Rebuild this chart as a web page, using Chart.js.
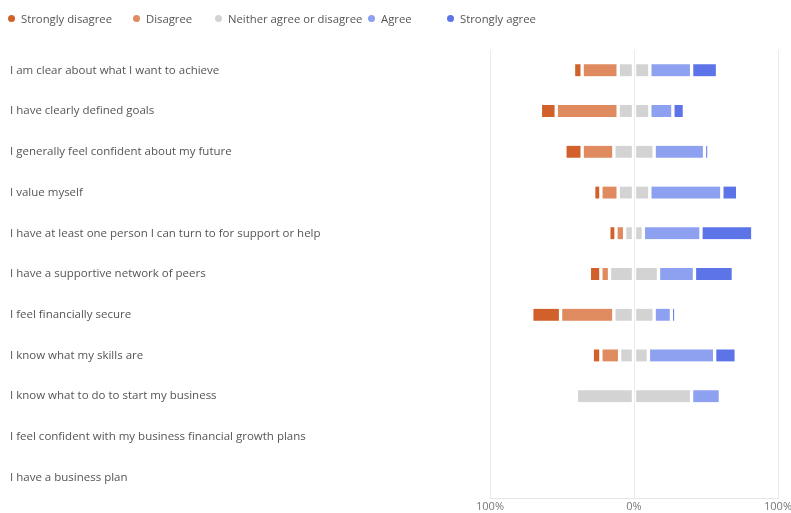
<!DOCTYPE html>
<html>
<head>
<meta charset="utf-8">
<script src="https://cdn.jsdelivr.net/npm/chart.js@4"></script>
<style>
  html, body { margin: 0; padding: 0; background: #fff; }
  #wrap { position: relative; width: 791px; height: 513px; }
  #legend { position: absolute; top: 10px; left: 0; height: 16px; font: 11.3px "Open Sans", sans-serif; color: #555; }
  #legend .item { position: absolute; top: 0; display: flex; align-items: center; white-space: nowrap; height: 16px; }
  #legend .dot { width: 7px; height: 7px; border-radius: 50%; margin-right: 6px; }
</style>
</head>
<body>
<div id="wrap">
  <div id="legend"></div>
  <canvas id="likert" width="791" height="513"></canvas>
</div>
<script>
// survey statements, top to bottom
const statements = [
  'I am clear about what I want to achieve',
  'I have clearly defined goals',
  'I generally feel confident about my future',
  'I value myself',
  'I have at least one person I can turn to for support or help',
  'I have a supportive network of peers',
  'I feel financially secure',
  'I know what my skills are',
  'I know what to do to start my business',
  'I feel confident with my business financial growth plans',
  'I have a business plan'
];

// share of answers per statement, in %
const stronglyDisagree = [6, 11, 12, 5, 5, 8, 20, 6, null, null, null];
const disagree         = [25, 43, 22, 12, 6, 6, 37, 13, null, null, null];
const neither          = [22, 22, 28, 22, 13, 34, 28, 20, 80, null, null];
const agree            = [29, 16, 35, 50, 40, 25, 12, 46, 20, null, null];
const stronglyAgree    = [18, 8, 3, 11, 36, 27, 3, 15, null, null, null];

const answerLabels = ['Strongly disagree', 'Disagree', 'Neither agree or disagree', 'Agree', 'Strongly agree'];
const answerColors = ['#d2602b', '#e08a5f', '#d3d3d3', '#8ea1f0', '#5c74e8'];

const xTicks = [-100, 0, 100];

// negatives go left of zero; "neither" is split in half across the middle
const neg = arr => arr.map(v => v == null ? null : -v);
const half = arr => arr.map(v => v == null ? null : v / 2);

function bar(label, data, color) {
  return {
    label: label,
    data: data,
    backgroundColor: color,
    borderColor: 'rgba(255,255,255,0)',
    borderWidth: { left: 2, right: 2, top: 0, bottom: 0 },
    borderSkipped: false,
    borderRadius: 2,
    barThickness: 12
  };
}

// dataset order = stacking order outward from zero
const datasets = [
  bar(answerLabels[2], neg(half(neither)), answerColors[2]),
  bar(answerLabels[2], half(neither), answerColors[2]),
  bar(answerLabels[1], neg(disagree), answerColors[1]),
  bar(answerLabels[3], agree, answerColors[3]),
  bar(answerLabels[0], neg(stronglyDisagree), answerColors[0]),
  bar(answerLabels[4], stronglyAgree, answerColors[4])
];

// legend, one item per answer
const legendLeft = [8, 133, 215, 368, 447];
const legend = document.getElementById('legend');
answerLabels.forEach(function(name, i) {
  const item = document.createElement('div');
  item.className = 'item';
  item.style.left = legendLeft[i] + 'px';
  item.innerHTML = '<span class="dot" style="background:' + answerColors[i] + '"></span><span>' + name + '</span>';
  legend.appendChild(item);
});

const ctx = document.getElementById('likert').getContext('2d');
new Chart(ctx, {
  type: 'bar',
  data: {
    labels: statements,
    datasets: datasets
  },
  options: {
    indexAxis: 'y',
    responsive: false,
    animation: false,
    layout: { padding: { top: 50, left: 10, right: 0, bottom: 0 } },
    plugins: {
      legend: { display: false },
      tooltip: { enabled: false }
    },
    scales: {
      x: {
        stacked: true,
        min: -100,
        max: 100,
        afterBuildTicks: function(scale) {
          scale.ticks = xTicks.map(v => ({ value: v }));
        },
        afterFit: function(scale) {
          scale.height = 15;
          scale.paddingRight = 13;
        },
        ticks: {
          color: '#777',
          font: { family: 'Open Sans', size: 11 },
          padding: 2,
          callback: v => Math.abs(v) + '%'
        },
        grid: { color: '#ebebeb', drawTicks: false },
        border: { display: true, color: '#e6e6e6' }
      },
      y: {
        stacked: true,
        afterFit: function(scale) { scale.width = 480; },
        ticks: {
          crossAlign: 'far',
          color: '#555',
          font: { family: 'Open Sans', size: 11.5 }
        },
        grid: { display: false },
        border: { display: false }
      }
    }
  }
});
</script>
</body>
</html>
